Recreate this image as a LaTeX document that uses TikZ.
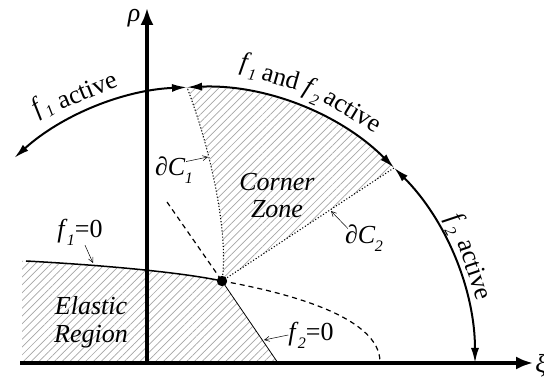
\documentclass[tikz,border=0pt]{standalone}
\usepackage{fontspec}
\setmainfont{Liberation Serif}
\usetikzlibrary{arrows.meta,patterns.meta,calc}
\newcommand{\fsub}[2]{\textit{#1}\kern-0.03em\raisebox{-0.3em}{\fontsize{16}{16}\selectfont\itshape #2}}
\newcommand{\dCsub}[1]{∂\textit{C}\kern-0.02em\raisebox{-0.3em}{\fontsize{16}{16}\selectfont\itshape #1}}
\tikzset{
  axis/.style={line width=3.2pt,-{Latex[length=17pt,width=13pt]}},
  activearc/.style={line width=2pt,{Latex[length=15pt,width=8pt]}-{Latex[length=15pt,width=8pt]}},
  hatch/.style={pattern={Lines[angle=45,distance=5.5pt,line width=0.7pt]},pattern color=gray!70},
  lbl/.style={inner sep=0pt,font=\fontsize{26}{28}\selectfont},
  pointer/.style={line width=0.5pt,-{Straight Barb[length=5pt,width=5pt]}},
  bnd/.style={line width=1.1pt,dotted},
  dsh/.style={line width=1.2pt,dash pattern=on 5pt off 4pt}
}
\begin{document}
\begin{tikzpicture}[x=1pt,y=1pt]
\useasboundingbox (0,0) rectangle (544,377);
\coordinate (O) at (199,14);
\coordinate (P) at (222,96);
\coordinate (A1) at ($(O)+(132:276)$);
\coordinate (A2) at ($(O)+(92.5:276)$);
\coordinate (A3) at ($(O)+(45:276)$);
\coordinate (A4) at ($(O)+(0:276)$);
\coordinate (L0) at (26,116);
\coordinate (F2end) at (278,14);
\coordinate (Dtop) at (167,175);
\coordinate (Dend) at (380,15);
\coordinate (Xs) at (20,14);
\coordinate (Xe) at (533,14);
\coordinate (Ys) at (147,14);
\coordinate (Ye) at (147,369);

% hatched regions
\fill[hatch] (22,116) -- (L0) .. controls (100,112) and (180,105) .. (P) -- (F2end) -- (22,14) -- cycle;
\fill[hatch] (P) .. controls (229,142) and (211,227) .. (A2) arc[start angle=92.5,end angle=45,radius=276] -- cycle;

% boundaries
\draw[line width=1.5pt] (L0) .. controls (100,112) and (180,105) .. (P);
\draw[line width=0.8pt] (P) -- (F2end);
\draw[bnd] (P) .. controls (229,142) and (211,227) .. (A2);
\draw[bnd] (P) -- (A3);
\draw[dsh] (Dtop) -- (P);
\draw[dsh] (P) .. controls (300,82) and (380,57) .. (Dend);

% axes
\draw[axis] (Xs) -- (Xe);
\draw[axis] (Ys) -- (Ye);
\node[lbl] (rho) at (134,359) {\textit{ρ}};
\node[lbl] (xi) at (541,11) {\textit{ξ}};

% arcs
\draw[activearc] (A1) arc[start angle=132,end angle=92.5,radius=276];
\draw[activearc] (A2) arc[start angle=92.5,end angle=45,radius=276];
\draw[activearc] (A3) arc[start angle=45,end angle=0,radius=276];

\fill (P) circle[radius=5.2];

% arc labels
\node[lbl,rotate=31.5] (la1) at ($(O)+(121.5:300)$) {\fsub{f}{1}};
\node[lbl,rotate=22.3] (la2) at ($(O)+(112.3:295)$) {active};
\node[lbl,rotate=-9.5] (lb1) at ($(O)+(80.5:301)$) {\fsub{f}{1}};
\node[lbl,rotate=-16] (lb2) at ($(O)+(74:298)$) {and};
\node[lbl,rotate=-22.5] (lb3) at ($(O)+(67.3:295)$) {\fsub{f}{2}};
\node[lbl,rotate=-31] (lb4) at ($(O)+(58.6:296)$) {active};
\node[lbl,rotate=-61.6] (lc1) at ($(O)+(28.6:292)$) {\fsub{f}{2}};
\node[lbl,rotate=-71.3] (lc2) at ($(O)+(18.7:292)$) {active};

% region labels
\node[lbl] (corner) at (277,195) {\textit{Corner}};
\node[lbl] (zone) at (277,168) {\textit{Zone}};
\node[lbl] (elastic) at (91,71) {\textit{Elastic}};
\node[lbl] (region) at (91,40) {\textit{Region}};

% boundary labels with pointers
\node[lbl] (dc1) at (174,207) {\dCsub{1}};
\coordinate (t1) at (208,220);
\draw[pointer] ([shift={(-7,-5)}]dc1.north east) -- (t1);
\node[lbl] (dc2) at (364,139) {\dCsub{2}};
\coordinate (t2) at (331,166);
\draw[pointer] ([shift={(3,-4)}]dc2.north west) -- (t2);
\node[lbl] (f1z) at (80,145) {\fsub{f}{1}=0};
\coordinate (t3) at (93,114);
\draw[pointer] ([shift={(5,0)}]f1z.south) -- (t3);
\node[lbl] (f2z) at (311,42) {\fsub{f}{2}=0};
\coordinate (t4) at (264,37);
\draw[pointer] (f2z.west) -- (t4);
\end{tikzpicture}
\end{document}
